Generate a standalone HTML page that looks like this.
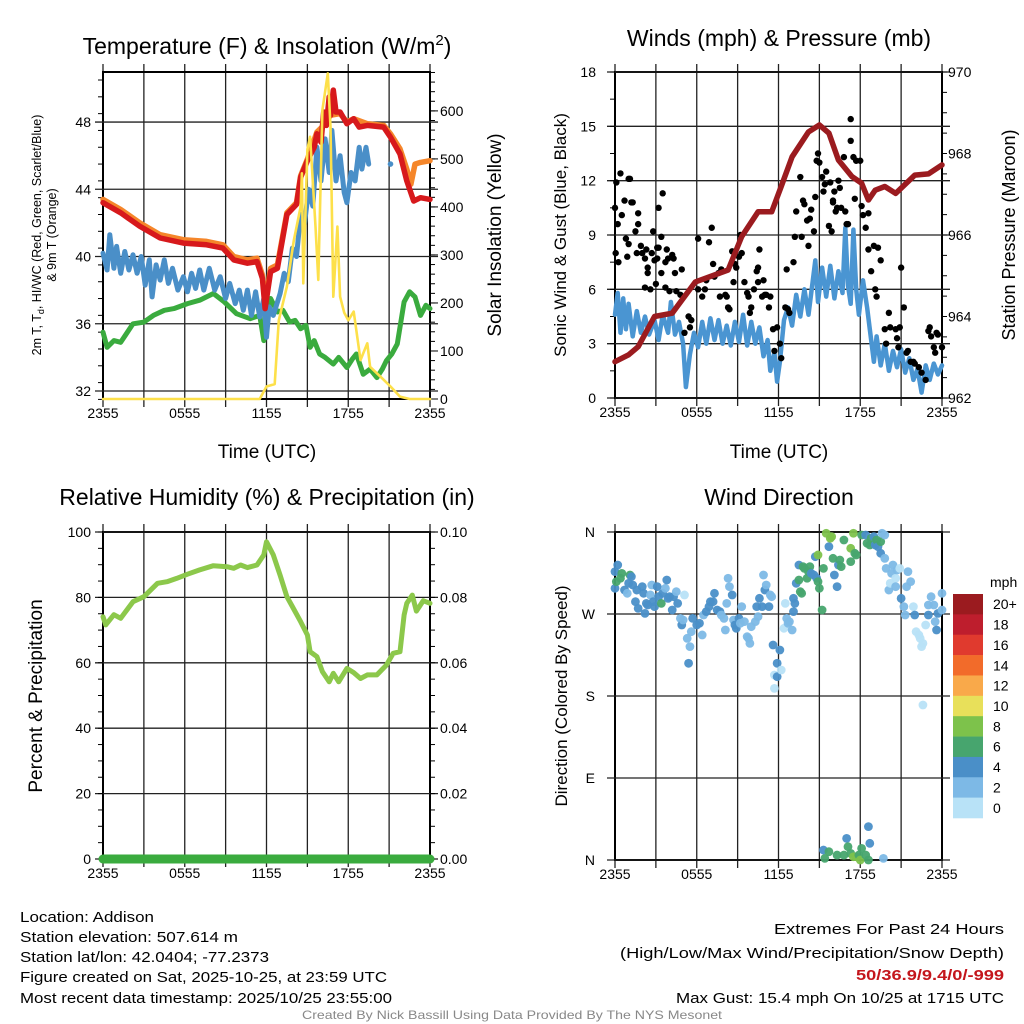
<!DOCTYPE html>
<html><head><meta charset="utf-8"><style>
body{margin:0;background:#fff;}
svg{display:block;font-family:"Liberation Sans",sans-serif;}
</style></head><body>
<svg id="fig" width="1024" height="1024" viewBox="0 0 1024 1024" xmlns="http://www.w3.org/2000/svg">
<rect width="1024" height="1024" fill="#fff"/>
<g id="p1"></g>
<g id="p2"></g>
<g id="p3"></g>
<g id="p4"></g>
<text x="267" y="54" font-size="23" text-anchor="middle">Temperature (F) &amp; Insolation (W/m<tspan dy="-9" font-size="15">2</tspan><tspan dy="9">)</tspan></text>
<text x="779" y="46" font-size="23" text-anchor="middle">Winds (mph) &amp; Pressure (mb)</text>
<text x="267" y="505" font-size="23" text-anchor="middle">Relative Humidity (%) &amp; Precipitation (in)</text>
<text x="779" y="505" font-size="23" text-anchor="middle">Wind Direction</text>
<text x="267" y="458" font-size="19" text-anchor="middle">Time (UTC)</text>
<text x="779" y="458" font-size="19" text-anchor="middle">Time (UTC)</text>
<text transform="translate(41,235) rotate(-90)" font-size="12.5" text-anchor="middle">2m T, T<tspan font-size="9" dy="3">d</tspan><tspan dy="-3">, HI/WC (Red, Green, Scarlet/Blue)</tspan></text>
<text transform="translate(56,235) rotate(-90)" font-size="12.5" text-anchor="middle">&amp; 9m T (Orange)</text>
<text transform="translate(501,235) rotate(-90)" font-size="19" text-anchor="middle">Solar Insolation (Yellow)</text>
<text transform="translate(566,235) rotate(-90)" font-size="17" text-anchor="middle">Sonic Wind &amp; Gust (Blue, Black)</text>
<text transform="translate(1015,235) rotate(-90)" font-size="18" text-anchor="middle">Station Pressure (Maroon)</text>
<text transform="translate(42,696) rotate(-90)" font-size="19" text-anchor="middle">Percent &amp; Precipitation</text>
<text transform="translate(567,696) rotate(-90)" font-size="17" text-anchor="middle">Direction (Colored By Speed)</text>
<text x="20" y="922" font-size="15" textLength="134" lengthAdjust="spacingAndGlyphs">Location: Addison</text>
<text x="20" y="942" font-size="15" textLength="218" lengthAdjust="spacingAndGlyphs">Station elevation: 507.614 m</text>
<text x="20" y="962" font-size="15" textLength="249" lengthAdjust="spacingAndGlyphs">Station lat/lon: 42.0404; -77.2373</text>
<text x="20" y="982" font-size="15" textLength="367" lengthAdjust="spacingAndGlyphs">Figure created on Sat, 2025-10-25, at 23:59 UTC</text>
<text x="20" y="1003" font-size="15" textLength="372" lengthAdjust="spacingAndGlyphs">Most recent data timestamp: 2025/10/25 23:55:00</text>
<text x="1004" y="934" font-size="15" text-anchor="end" textLength="230" lengthAdjust="spacingAndGlyphs">Extremes For Past 24 Hours</text>
<text x="1004" y="958" font-size="15" text-anchor="end" textLength="384" lengthAdjust="spacingAndGlyphs">(High/Low/Max Wind/Precipitation/Snow Depth)</text>
<text x="1004" y="980" font-size="15" font-weight="bold" fill="#c4161c" text-anchor="end" textLength="148" lengthAdjust="spacingAndGlyphs">50/36.9/9.4/0/-999</text>
<text x="1004" y="1003" font-size="15" text-anchor="end" textLength="328" lengthAdjust="spacingAndGlyphs">Max Gust: 15.4 mph On 10/25 at 1715 UTC</text>
<text x="512" y="1019" font-size="12" fill="#888" text-anchor="middle" textLength="420" lengthAdjust="spacingAndGlyphs">Created By Nick Bassill Using Data Provided By The NYS Mesonet</text>
</svg>
<script>
// ---- data ----
const timeTicks = ["2355","0555","1155","1755","2355"];
const tempTicks = [32,36,40,44,48];
const solarTicks = [0,100,200,300,400,500,600];
const windTicks = [0,3,6,9,12,15,18];
const presTicks = [962,964,966,968,970];
const rhTicks = [0,20,40,60,80,100];
const precipTicks = ["0.00","0.02","0.04","0.06","0.08","0.10"];
const dirTicks = ["N","W","S","E","N"];
const speedBins = ["20+","18","16","14","12","10","8","6","4","2","0"];
const speedColors = ["#9b1b1f","#be1e2d","#e03a2e","#f26b2a","#f9a94a","#e8e05a","#7dc24b","#47a56e","#4a8fc8","#7db9e6","#b8e2f7"];

const redHour = [0,1.3,2.7,4.2,5.9,7.6,8.8,9.6,10.6,11.3,11.7,11.9,12.3,12.8,13.5,14.2,14.5,15.0,15.5,15.7,16.0,16.2,16.4,16.6,16.7,16.9,17.1,17.4,17.9,18.4,18.8,19.4,20.6,21.1,21.8,22.3,22.8,23.3,24];
const redTemp = [43.2,42.6,41.8,41.1,40.8,40.7,40.5,39.8,39.6,39.7,38.7,36.9,39.1,39.3,42.5,43.1,44.7,45.7,46.5,47.3,46.8,48.6,47.8,49.5,48.4,49.9,48.6,48.6,47.9,48.2,47.7,47.8,47.7,47.1,46.1,44.5,43.3,43.5,43.4];
const orangeHour = [0,1.3,2.7,4.2,5.9,7.6,8.8,9.6,10.6,11.3,11.7,11.9,12.3,12.8,13.5,14.2,14.5,15.0,15.7,16.2,16.7,17.4,17.9,18.4,19.4,20.6,21.1,21.8,22.3,22.6,22.9,23.3,24];
const orangeTemp = [43.4,42.8,42.0,41.3,41.0,40.9,40.7,40.0,39.8,39.9,38.9,37.2,39.3,39.5,42.6,43.2,44.8,45.8,47.4,47.8,48.4,48.5,48.0,48.2,47.9,47.8,47.3,46.4,45.2,44.3,45.5,45.6,45.7];
const blueHour = [0,0.3,0.5,0.8,1.0,1.3,1.6,1.9,2.2,2.5,2.8,3.1,3.4,3.6,3.9,4.2,4.5,4.8,5.1,5.5,5.9,6.2,6.5,6.8,7.1,7.4,7.8,8.2,8.6,9.0,9.3,9.7,10.0,10.3,10.6,10.9,11.2,11.5,11.8,12.0,12.2,12.5,13.0,13.3,13.6,13.9,14.2,14.5,14.8,15.1,15.4,15.7,16.0,16.3,16.6,16.8,17.1,17.4,17.7,17.9,18.2,18.5,18.8,19.0,19.3,19.5];
const blueTemp = [40.2,39.2,41.3,39.3,40.6,39.0,40.3,39.2,40.1,39.0,40.0,38.3,39.8,37.6,39.5,38.6,39.8,38.4,39.3,38.0,38.8,37.9,39.0,38.1,39.2,38.0,39.3,38.0,38.8,37.5,38.4,37.2,38.0,36.8,38.0,36.5,37.9,36.4,37.5,35.2,37.0,36.5,37.8,39.0,38.5,40.5,40.0,42.5,42.0,44.0,43.0,46.5,44.5,47.0,45.0,47.5,44.5,46.0,43.8,43.2,45.0,44.5,46.5,45.2,46.5,45.5];
const blueDotHour = [21.1];
const blueDotTemp = [45.5];
const greenHour = [0,0.3,0.8,1.3,2.2,3.0,3.7,4.5,5.2,6.2,7.1,8.1,8.9,9.8,10.8,11.5,11.8,12.3,12.8,13.2,13.7,14.1,14.5,14.9,15.2,15.5,15.9,16.3,16.9,17.3,17.9,18.3,18.6,19.1,19.6,20.1,20.5,20.8,21.2,21.6,22.1,22.5,22.9,23.3,23.7,24];
const greenTemp = [35.5,34.6,35.0,34.9,36.0,36.1,36.5,36.8,36.9,37.2,37.4,37.8,37.3,36.6,36.3,36.5,35.0,37.5,36.7,36.8,36.1,36.2,35.7,35.9,34.6,35.0,34.2,34.0,33.6,34.0,33.4,33.9,34.2,33.0,33.3,32.8,33.3,33.8,34.2,34.8,37.3,37.9,37.6,36.5,37.1,36.9];
const solarHour = [0,11.5,12.0,12.6,12.9,13.5,14.0,14.5,14.6,14.7,15.0,15.2,15.6,15.8,16.1,16.5,16.7,16.9,17.2,17.4,17.7,18.0,18.4,18.9,19.4,19.6,20.6,21.1,21.8,22.5,24];
const solarVal = [0,0,26,31,164,234,330,400,470,241,520,546,359,248,602,678,567,213,359,213,180,164,182,81,116,67,40,26,5,0,0];

const presHour = [0,1.0,1.7,2.9,4.2,5.9,8.3,9.3,10.5,11.5,12.2,13.0,14.2,15.0,15.7,16.4,17.4,18.1,18.6,19.1,19.8,20.6,22.0,23.0,24];
const presVal = [962.89,963.06,963.26,964.0,964.08,964.85,965.14,965.96,966.57,966.57,967.19,967.92,968.53,968.7,968.5,967.84,967.43,967.27,966.86,967.1,967.19,967.02,967.47,967.5,967.72];
const windHour = [0,0.2,0.4,0.6,0.8,1.0,1.3,1.6,1.9,2.2,2.5,2.9,3.2,3.5,3.9,4.1,4.4,4.7,5.0,5.2,5.5,5.8,6.1,6.4,6.7,7.0,7.3,7.6,7.9,8.2,8.5,8.8,9.1,9.4,9.7,10.0,10.3,10.6,10.9,11.2,11.4,11.7,11.9,12.1,12.4,12.7,13.0,13.3,13.6,13.9,14.2,14.5,14.7,14.9,15.2,15.5,15.8,16.1,16.4,16.7,16.9,17.1,17.3,17.5,17.7,17.9,18.2,18.5,18.7,19.0,19.2,19.5,19.8,20.1,20.4,20.7,21.0,21.3,21.6,21.9,22.2,22.5,22.8,23.1,23.4,23.7,24];
const windVal = [4.6,5.8,3.6,5.5,3.8,5.2,3.4,4.8,3.6,4.5,3.5,4.3,3.2,4.6,3.6,5.3,3.5,4.2,3.0,0.6,2.4,3.6,2.8,4.2,3.0,4.4,3.2,4.3,3.0,4.0,2.9,4.2,3.1,4.6,2.9,4.2,3.0,3.9,2.3,3.2,1.5,2.5,0.9,2.0,4.3,5.0,4.0,5.7,4.5,6.0,4.6,6.4,7.6,5.3,7.2,5.6,7.3,5.5,7.0,5.8,9.4,6.2,5.2,9.3,6.0,4.6,6.5,5.0,3.8,2.0,3.4,1.8,3.0,1.5,2.6,1.7,2.7,1.4,2.2,1.0,1.6,0.3,1.8,1.0,1.9,1.3,1.8];
const gustHour = [0.0,0.05,0.1,0.2,0.4,0.25,0.5,0.7,0.8,0.9,1.0,1.0,1.1,1.2,1.3,1.5,1.6,1.7,1.7,1.9,2.0,2.2,2.2,2.3,2.4,2.4,2.6,2.7,2.8,2.9,3.0,3.1,3.1,3.2,3.2,3.4,3.5,3.4,3.7,3.7,3.8,3.9,4.0,4.2,4.3,4.4,4.5,4.8,4.9,5.1,5.4,5.5,5.6,6.1,6.1,6.4,6.6,6.7,6.9,7.1,7.2,7.3,7.6,7.7,7.8,8.1,8.2,8.3,8.4,8.6,8.7,8.8,8.9,9.1,9.2,9.3,9.5,9.7,9.8,9.9,10.0,10.2,10.4,10.5,10.5,10.6,10.8,10.9,11.0,11.1,11.3,11.4,11.6,11.9,11.7,12.1,12.2,12.5,12.6,12.7,12.8,13.1,13.2,13.3,13.6,13.7,13.8,13.9,14.1,14.2,14.3,14.4,14.6,14.7,14.8,14.9,15.0,15.2,15.3,15.4,15.5,15.7,15.8,15.9,16.0,16.0,16.1,16.2,16.3,16.4,16.5,16.6,16.8,16.9,17.0,17.1,17.3,17.3,17.5,17.6,17.7,18.0,18.1,18.2,18.4,18.6,18.6,18.8,19.0,19.1,19.2,19.3,19.5,19.8,19.9,20.1,20.2,20.6,20.7,20.8,20.9,21.0,21.2,21.4,21.5,21.7,21.9,22.0,22.3,22.5,22.8,23.0,23.1,23.2,23.4,23.5,23.6,23.7,24.0];
const gustMph = [10.5,8.0,11.9,9.6,12.4,7.5,10.1,10.9,8.8,7.8,8.5,12.1,12.1,10.8,10.8,9.2,8.0,10.2,9.6,8.4,8.0,7.7,6.1,8.2,7.2,6.9,6.0,8.0,9.2,7.6,6.3,8.3,7.7,10.5,8.3,8.9,11.3,6.9,7.5,6.1,8.2,7.7,5.9,7.9,7.7,6.9,5.9,5.7,7.1,3.6,4.5,3.9,4.3,8.8,6.0,5.6,6.0,6.5,8.6,9.4,7.4,6.7,6.9,5.6,7.1,5.7,5.6,5.0,4.9,8.1,6.4,7.4,7.2,7.8,9.0,8.0,6.4,5.8,5.6,4.7,5.0,6.0,7.0,7.2,6.4,8.2,5.6,6.5,5.7,5.7,5.0,5.6,3.8,3.9,2.6,3.0,2.2,5.0,7.1,4.9,4.7,7.5,8.9,10.3,12.2,8.9,10.9,10.7,9.8,8.4,9.9,10.4,9.2,11.1,13.1,13.5,13.0,12.2,11.4,11.8,12.5,9.5,11.9,9.2,10.8,10.9,11.4,10.3,10.5,12.0,11.6,10.5,13.3,10.3,9.6,9.6,14.2,15.4,13.3,11.0,13.1,13.1,10.6,10.1,9.4,10.2,8.2,7.0,8.4,6.0,5.6,8.3,7.6,3.8,3.0,4.7,3.9,3.8,3.3,2.8,3.9,7.2,5.0,2.5,2.6,2.0,2.0,1.9,1.7,1.4,1.0,3.7,3.9,3.4,2.8,2.5,3.6,3.5,2.8];

const rhHour = [0,0.2,0.8,1.3,2.2,3.0,4.0,4.7,5.4,6.2,7.1,8.1,9.1,9.6,10.1,10.6,11.3,11.8,12.0,12.5,13.0,13.5,13.9,14.5,15.0,15.2,15.7,16.1,16.6,16.9,17.3,17.9,18.4,18.9,19.4,20.1,20.8,21.3,21.8,22.1,22.3,22.7,23.0,23.5,24];
const rhVal = [74.1,71.6,74.7,73.6,78.7,80.2,84.3,84.8,85.8,87.1,88.4,89.7,89.4,88.9,89.9,89.1,89.9,93.0,97.0,93.0,86.8,80.2,77.2,72.6,68.5,63.4,61.9,57.3,54.2,56.8,54.2,58.3,57.0,55.2,56.3,56.3,59.3,62.9,63.4,74.6,78.2,80.7,75.8,79.0,78.2];
const precipHour = [0,24];
const precipVal = [0,0];

const dirHour = [0.0,0.0,0.2,0.1,0.5,0.4,0.7,0.9,1.0,1.1,1.2,1.3,1.5,1.6,1.7,2.0,2.1,2.2,2.3,2.4,2.6,2.7,2.8,2.9,3.1,3.2,3.4,3.5,3.7,3.8,3.9,4.0,4.2,4.3,4.5,4.6,4.8,4.9,5.0,5.1,5.3,5.4,5.5,5.6,5.7,6.0,6.2,6.4,6.5,6.7,6.9,7.0,7.2,7.3,7.5,7.7,7.8,8.0,8.1,8.2,8.3,8.4,8.6,8.7,8.8,8.9,9.1,9.2,9.3,9.5,9.7,9.8,9.9,10.0,10.3,10.4,10.5,10.6,10.8,10.9,11.0,11.1,11.3,11.4,11.5,11.6,11.7,11.9,11.7,11.9,12.1,12.2,12.4,12.5,12.6,12.7,12.8,13.0,13.1,13.2,13.1,13.3,13.5,13.5,13.6,13.7,13.8,13.9,14.1,14.2,14.3,14.4,14.6,14.7,14.8,14.9,14.9,15.0,15.2,15.3,15.5,15.7,15.8,15.9,16.0,16.1,16.3,16.4,16.5,16.6,16.8,17.3,17.3,17.5,17.6,17.7,18.1,18.4,18.5,18.7,18.8,19.0,19.1,19.2,19.3,19.5,19.5,19.6,19.8,19.8,19.9,20.1,20.2,20.3,20.4,20.6,20.6,20.7,20.9,21.0,21.2,21.3,21.4,21.5,21.7,21.9,22.0,22.1,22.3,22.4,22.5,22.6,22.6,22.8,23.0,23.0,23.2,23.4,23.5,23.6,23.7,24.0,24.0,15.3,15.4,15.7,16.3,16.8,17.0,17.1,17.3,17.5,17.7,17.9,18.0,18.1,18.4,18.6,18.6,18.7,19.7];
const dirDeg = [298.2,316.5,323.8,305.5,314.6,309.2,296.3,292.7,303.7,312.8,311.0,301.8,283.5,296.3,276.2,300.0,292.7,270.7,281.7,279.9,290.9,301.8,283.5,278.1,300.0,289.0,281.7,292.7,298.2,307.3,287.2,289.0,274.4,289.0,294.5,281.7,265.2,257.9,263.4,290.9,243.3,215.9,234.2,250.6,265.2,257.9,259.8,247.0,268.9,272.6,278.1,283.5,283.5,292.7,274.4,272.6,268.9,265.2,252.4,281.7,309.2,300.0,290.9,263.4,257.9,254.3,265.2,259.8,278.1,261.6,245.1,243.3,237.8,256.1,261.6,278.1,267.1,287.2,278.1,312.8,296.3,301.8,278.1,290.9,289.0,236.0,203.0,215.9,188.4,201.2,230.5,208.5,254.3,281.7,265.2,259.8,261.6,252.4,287.2,281.7,272.6,303.7,307.3,323.8,294.5,292.7,322.0,320.1,309.2,316.5,322.0,314.6,312.8,332.9,309.2,334.8,305.5,298.2,274.4,320.1,358.6,343.9,353.1,354.9,331.1,312.8,300.0,323.8,329.3,322.0,351.2,342.1,327.5,358.6,336.6,334.8,356.7,356.7,347.6,345.7,353.1,354.9,345.7,351.2,343.9,349.4,336.6,358.6,356.7,331.1,320.1,296.3,303.7,314.6,323.8,309.2,300.0,318.3,320.1,287.2,278.1,268.9,300.0,316.5,305.5,278.1,268.9,250.6,247.0,243.3,234.2,237.8,170.1,257.9,268.9,279.9,289.0,279.9,261.6,252.4,270.7,292.7,274.4,10.9,1.8,9.1,5.4,5.4,23.7,14.6,7.3,3.6,3.6,5.4,0,12.8,5.4,0,36.6,18.3,1.8];
const dirSpeed = [5,5,5,7,7,7,5,3,5,7,5,5,5,5,5,5,5,5,5,5,3,3,5,5,5,5,7,5,3,5,5,5,5,5,3,5,3,5,3,1,3,5,3,3,5,5,5,3,3,5,5,5,5,5,5,5,3,3,3,3,3,3,5,3,5,5,5,3,3,3,3,3,3,3,3,5,3,5,5,3,5,3,5,3,3,5,1,5,1,5,5,1,1,1,3,3,3,3,5,5,5,5,7,5,7,7,7,7,7,7,7,5,5,5,5,9,7,7,7,7,9,5,9,9,7,5,5,5,7,7,7,9,7,9,7,7,7,5,7,7,7,5,5,7,5,7,5,3,3,3,3,3,1,3,3,1,3,3,1,5,3,3,3,3,3,1,5,1,1,1,1,1,1,1,5,3,3,3,3,5,5,3,3,5,7,7,7,7,5,7,7,9,9,7,9,7,7,7,5,5,3];

// ---- helpers ----
const NS = "http://www.w3.org/2000/svg";
function mk(parent, tag, attrs){
  const e = document.createElementNS(NS, tag);
  for (const k in attrs) e.setAttribute(k, attrs[k]);
  parent.appendChild(e);
  return e;
}
const W = 327;
const P = {
  p1:{x0:103,y0:72,y1:399},
  p2:{x0:615,y0:72,y1:398},
  p3:{x0:103,y0:532,y1:859},
  p4:{x0:615,y0:532,y1:860}
};
function xh(p,h){ return P[p].x0 + h*W/24; }
const yTemp = t => 391 - (t-32)*16.81;
const ySolar = v => 399 - v*327/681;
const yWind = v => 398 - v*(326/18);
const yPres = p => 398 - (p-962)*(326/8);
const yRH = v => 859 - v*3.27;
const yPrecip = v => 859 - v*3270;
const yDir = d => 532 + (360-d)*328/360;

function frame(id){
  const g = document.getElementById(id), p = P[id];
  for (let i=0;i<=8;i++){
    const x = xh(id, i*3);
    const l = mk(g,"line",{x1:x,y1:p.y0-8,x2:x,y2:p.y1+8,stroke:"#222","stroke-width":1.3});
    
    
  }
  const b = mk(g,"rect",{x:p.x0,y:p.y0,width:W,height:p.y1-p.y0,fill:"none",stroke:"#000","stroke-width":2});
  
  
  timeTicks.forEach((t,i)=>{
    const tx = mk(g,"text",{x:xh(id,i*6),y:p.y1+19,"font-size":14,"text-anchor":"middle"});
    tx.textContent = t;
    
    
  });
  return g;
}
function hline(g,y,x0,x1){
  const l = mk(g,"line",{x1:x0-8,y1:y,x2:x1+8,y2:y,stroke:"#222","stroke-width":1.3});
  
  
}
function label(g,x,y,txt,anchor){
  const t = mk(g,"text",{x:x,y:y+5,"font-size":14,"text-anchor":anchor});
  t.textContent = txt;
  
  
}
function minor(g,x,y,dir){
  const l = mk(g,"line",{x1:x,y1:y,x2:x+dir*5,y2:y,stroke:"#000","stroke-width":1});
  
  
}
function path(g,xs,ys,color,w){
  let d = "";
  xs.forEach((x,i)=>{ d += (i?"L":"M")+x.toFixed(1)+","+ys[i].toFixed(1); });
  return mk(g,"path",{d:d,fill:"none",stroke:color,"stroke-width":w,"stroke-linejoin":"round","stroke-linecap":"round"});
}

// ---- panel 1 ----
(function(){
  const g = frame("p1"), p = P.p1;
  tempTicks.forEach(t=>{ hline(g,yTemp(t),p.x0,p.x0+W); label(g,p.x0-12,yTemp(t),String(t),"end"); });
  for (let t=31.5;t<=51;t+=1) minor(g,p.x0,yTemp(t),-1);
  solarTicks.forEach(v=>{ label(g,p.x0+W+10,ySolar(v),String(v),"start"); minor(g,p.x0+W,ySolar(v),1.6); });
  for (let v=0;v<=680;v+=20) minor(g,p.x0+W,ySolar(v),1);
  const gr = path(g, greenHour.map(h=>xh("p1",h)), greenTemp.map(yTemp), "#3aab3e", 5);
  
  
  const bl = path(g, blueHour.map(h=>xh("p1",h)), blueTemp.map(yTemp), "#4a8fc8", 5);
  
  
  blueDotHour.forEach((h,i)=>{
    const c = mk(g,"circle",{cx:xh("p1",h),cy:yTemp(blueDotTemp[i]),r:2.8,fill:"#4a8fc8"});
    
    
  });
  const or = path(g, orangeHour.map(h=>xh("p1",h)), orangeTemp.map(yTemp), "#f5862a", 5.5);
  
  
  const rd = path(g, redHour.map(h=>xh("p1",h)), redTemp.map(yTemp), "#d7191c", 5.5);
  
  
  const yl = path(g, solarHour.map(h=>xh("p1",h)), solarVal.map(ySolar), "#fde04a", 2.6);
  
  
})();

// ---- panel 2 ----
(function(){
  const g = frame("p2"), p = P.p2;
  windTicks.forEach(v=>{ hline(g,yWind(v),p.x0,p.x0+W); label(g,p.x0-19,yWind(v),String(v),"end"); });
  for (let v=0;v<=18;v+=1.5) minor(g,p.x0,yWind(v),-1);
  presTicks.forEach(v=>{ label(g,p.x0+W+6,yPres(v),String(v),"start"); });
  for (let v=962;v<=970;v+=0.5) minor(g,p.x0+W,yPres(v),1);
  const bl = path(g, windHour.map(h=>xh("p2",h)), windVal.map(yWind), "#4a95d2", 4.5);
  
  
  gustHour.forEach((h,i)=>{
    const c = mk(g,"circle",{cx:xh("p2",h),cy:yWind(gustMph[i]),r:3.2,fill:"#000"});
    
    
  });
  const pr = path(g, presHour.map(h=>xh("p2",h)), presVal.map(yPres), "#9b1b1f", 5.5);
  
  
})();

// ---- panel 3 ----
(function(){
  const g = frame("p3"), p = P.p3;
  rhTicks.forEach(v=>{ hline(g,yRH(v),p.x0,p.x0+W); label(g,p.x0-12,yRH(v),String(v),"end"); });
  for (let v=0;v<=100;v+=5) minor(g,p.x0,yRH(v),-1);
  precipTicks.forEach(v=>{ label(g,p.x0+W+10,yPrecip(parseFloat(v)),v,"start"); });
  for (let v=0;v<=0.1001;v+=0.005) minor(g,p.x0+W,yPrecip(v),1);
  const rh = path(g, rhHour.map(h=>xh("p3",h)), rhVal.map(yRH), "#8cc84b", 5);
  
  
  const pc = path(g, precipHour.map(h=>xh("p3",h)), precipVal.map(yPrecip), "#3aab3e", 9);
  
  
})();

// ---- panel 4 ----
(function(){
  const g = frame("p4"), p = P.p4;
  dirTicks.forEach((t,i)=>{ const y = p.y0 + i*(p.y1-p.y0)/4; hline(g,y,p.x0,p.x0+W); label(g,p.x0-20,y,t,"end"); });
  function colorFor(s){ const idx = 10 - Math.min(10, Math.floor(s/2)); return speedColors[idx]; }
  dirHour.forEach((h,i)=>{
    const c = mk(g,"circle",{cx:xh("p4",h),cy:yDir(dirDeg[i]),r:4.4,fill:colorFor(dirSpeed[i]),"fill-opacity":0.95});
    
    
  });
  const cb = mk(g,"g",{});
  
  
  const ut = mk(cb,"text",{x:990,y:587,"font-size":14});
  ut.textContent = "mph";
  
  
  const bh = 224/11;
  speedBins.forEach((s,i)=>{
    const r = mk(cb,"rect",{x:953,y:594+i*bh,width:30,height:bh+0.3,fill:speedColors[i]});
    
    
    const t = mk(cb,"text",{x:993,y:594+i*bh+bh/2+5,"font-size":14});
    t.textContent = s;
    
    
  });
})();
</script>
</body></html>
